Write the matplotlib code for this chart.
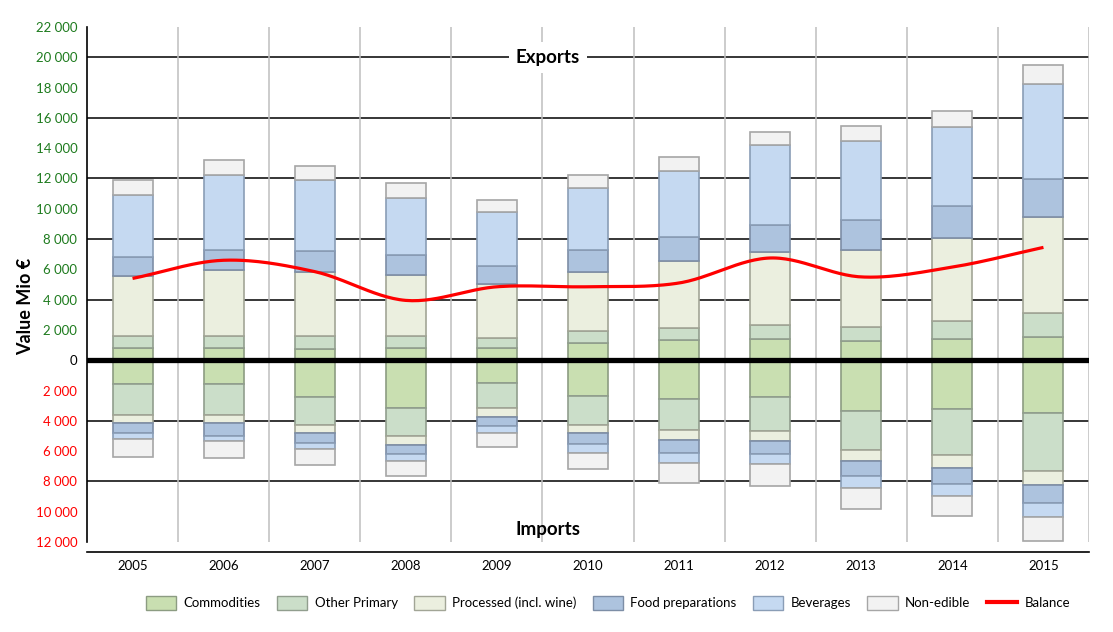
import numpy as np
import matplotlib
matplotlib.use("Agg")
import matplotlib.pyplot as plt
from matplotlib.patches import Patch
from matplotlib.lines import Line2D

years = ["2005", "2006", "2007", "2008", "2009", "2010", "2011", "2012", "2013", "2014", "2015"]
categories = ["Commodities", "Other Primary", "Processed (incl. wine)", "Food preparations", "Beverages", "Non-edible"]

# Exports (Mio €)
exp_commodities = [810, 840, 750, 840, 840, 1170, 1360, 1400, 1300, 1430, 1560]
exp_other_primary = [820, 790, 880, 790, 660, 790, 790, 950, 920, 1190, 1580]
exp_processed = [3950, 4340, 4210, 3990, 3550, 3880, 4420, 4810, 5070, 5460, 6330]
exp_food_prep = [1250, 1320, 1390, 1340, 1190, 1450, 1580, 1780, 1980, 2110, 2500]
exp_beverages = [4090, 4940, 4670, 3730, 3560, 4060, 4350, 5240, 5200, 5210, 6260]
exp_non_edible = [980, 990, 930, 1020, 790, 880, 940, 920, 990, 1050, 1250]

# Imports (Mio €)
imp_commodities = [1600, 1600, 2460, 3180, 1530, 2330, 2590, 2460, 3380, 3250, 3510]
imp_other_primary = [2040, 2040, 1800, 1850, 1650, 1930, 2040, 2240, 2570, 3030, 3820]
imp_processed = [490, 530, 530, 590, 550, 530, 660, 660, 720, 850, 920]
imp_food_prep = [700, 860, 660, 590, 640, 760, 860, 850, 990, 1060, 1190]
imp_beverages = [390, 330, 430, 460, 460, 600, 650, 660, 790, 790, 920]
imp_non_edible = [1190, 1120, 1060, 970, 920, 1050, 1320, 1450, 1390, 1320, 1580]

balance = [5400, 6600, 5850, 3950, 4850, 4850, 5100, 6750, 5500, 6150, 7450]

yticks = [22000, 20000, 18000, 16000, 14000, 12000, 10000, 8000, 6000, 4000, 2000, 0,
          -2000, -4000, -6000, -8000, -10000, -12000]
ytick_labels = ["22 000", "20 000", "18 000", "16 000", "14 000", "12 000", "10 000", "8 000",
                "6 000", "4 000", "2 000", "0", "2 000", "4 000", "6 000", "8 000", "10 000", "12 000"]

face_colors = ["#C9DFB1", "#CBDEC9", "#EBEFDF", "#ADC3DE", "#C5D9F1", "#F2F2F2"]
edge_colors = ["#8C9C82", "#919E8E", "#A2A596", "#7D8EA6", "#8A9DB6", "#A6A6A6"]

plt.rcParams['font.family'] = ['Lato', 'DejaVu Sans']

fig = plt.figure(figsize=(11.13, 6.32), dpi=100)
ax = fig.add_axes([87 / 1113, 1 - 542 / 632, (1089 - 87) / 1113, (542 - 27) / 632])

x = np.arange(len(years))
width = 0.44

exports = [exp_commodities, exp_other_primary, exp_processed, exp_food_prep, exp_beverages, exp_non_edible]
imports = [imp_commodities, imp_other_primary, imp_processed, imp_food_prep, imp_beverages, imp_non_edible]

bottom = np.zeros(len(years))
for vals, fc, ec in zip(exports, face_colors, edge_colors):
    v = np.array(vals, dtype=float)
    ax.bar(x, v, width, bottom=bottom, color=fc, edgecolor=ec, linewidth=1.2, zorder=2)
    bottom += v
bottom = np.zeros(len(years))
for vals, fc, ec in zip(imports, face_colors, edge_colors):
    v = -np.array(vals, dtype=float)
    ax.bar(x, v, width, bottom=bottom, color=fc, edgecolor=ec, linewidth=1.2, zorder=2)
    bottom += v

# smoothed balance line (Catmull-Rom through the read points)
bx = x.astype(float)
by = np.array(balance, dtype=float)
px = np.concatenate([[2 * bx[0] - bx[1]], bx, [2 * bx[-1] - bx[-2]]])
py = np.concatenate([[2 * by[0] - by[1]], by, [2 * by[-1] - by[-2]]])
sx, sy = [], []
t = np.linspace(0, 1, 30)
for i in range(1, len(px) - 2):
    p0, p1, p2, p3 = py[i - 1], py[i], py[i + 1], py[i + 2]
    q0, q1, q2, q3 = px[i - 1], px[i], px[i + 1], px[i + 2]
    c = lambda a0, a1, a2, a3: 0.5 * ((2 * a1) + (-a0 + a2) * t + (2 * a0 - 5 * a1 + 4 * a2 - a3) * t ** 2
                                      + (-a0 + 3 * a1 - 3 * a2 + a3) * t ** 3)
    sx.extend(c(q0, q1, q2, q3))
    sy.extend(c(p0, p1, p2, p3))
ax.plot(sx, sy, color="#FF0000", lw=2.3, zorder=4, solid_capstyle='butt')

ax.set_xlim(-0.5, len(years) - 0.5)
ax.set_ylim(-12000, 22000)

# grid
for yv in [20000, 16000, 12000, 8000, 4000, -4000, -8000]:
    ax.axhline(yv, color="black", lw=1.1, zorder=1)
for k in range(1, len(years) + 1):
    ax.axvline(k - 0.5, color="#BFBFBF", lw=1.1, zorder=1)
ax.axhline(0, color="black", lw=3.8, zorder=3)

ax.spines['top'].set_visible(False)
ax.spines['right'].set_visible(False)
ax.spines['left'].set_color("black")
ax.spines['left'].set_linewidth(1.2)
ax.spines['bottom'].set_position(('outward', 7))
ax.spines['bottom'].set_linewidth(1.2)

ax.set_yticks(yticks)
ax.set_yticklabels(ytick_labels)
for lab, v in zip(ax.get_yticklabels(), yticks):
    if v > 0:
        lab.set_color("#1E7B1E")
    elif v < 0:
        lab.set_color("#FF0000")
    else:
        lab.set_color("black")
ax.tick_params(axis='y', length=0, pad=7, labelsize=9.5)
ax.set_xticks(x)
ax.set_xticklabels(years)
ax.tick_params(axis='x', length=0, pad=6, labelsize=9.5)

fig.text(26 / 1113, 1 - 306 / 632, "Value Mio €", rotation=90, ha='center', va='center',
         fontsize=13, fontweight='bold')

ax.text(4.56, 20000, "Exports", ha='center', va='center', fontsize=13.5, fontweight='bold', zorder=5,
        bbox=dict(facecolor='white', edgecolor='none', pad=5))
ax.text(4.56, -11150, "Imports", ha='center', va='center', fontsize=13.5, fontweight='bold', zorder=5)

handles = [Patch(facecolor=fc, edgecolor=ec, linewidth=1.0) for fc, ec in zip(face_colors, edge_colors)]
handles.append(Line2D([0], [0], color="#FF0000", lw=3))
labels = categories + ["Balance"]
fig.legend(handles, labels, loc='center', bbox_to_anchor=(608 / 1113, 1 - 603 / 632), ncol=7,
           frameon=False, fontsize=9.5, handlelength=2.3, handleheight=1.3, handletextpad=0.55,
           columnspacing=1.25)

fig.savefig("out.png", dpi=100)
